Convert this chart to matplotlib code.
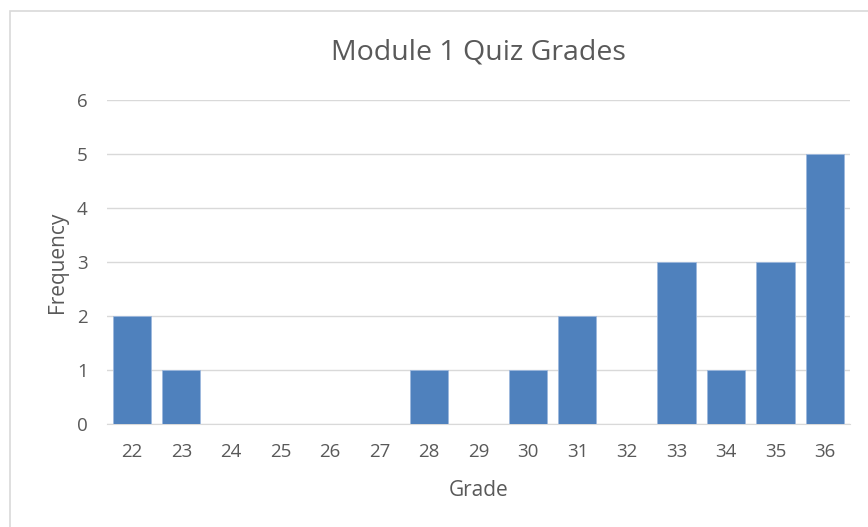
import matplotlib.pyplot as plt
from matplotlib.patches import Rectangle

plt.rcParams['font.family'] = ['Open Sans', 'DejaVu Sans']

grades = ['22', '23', '24', '25', '26', '27', '28', '29', '30', '31', '32', '33', '34', '35', '36']
freq = [2, 1, 0, 0, 0, 0, 1, 0, 1, 2, 0, 3, 1, 3, 5]

txt = '#595959'
grid = '#D9D9D9'

fig = plt.figure(figsize=(8.68, 5.27), dpi=100)
ax = fig.add_axes([0.1233, 0.1954, 0.979 - 0.1233, 0.8102 - 0.1954])

# chart border (cropped on right and bottom)
fig.add_artist(Rectangle((10 / 868, -0.1), 1.0, 1 - 11 / 527 + 0.1,
                         transform=fig.transFigure, fill=False,
                         edgecolor='#D9D9D9', linewidth=1.2))

x = range(len(grades))
ax.bar(x, freq, width=0.77, color='#4F81BD', edgecolor='#9DB8DE', linewidth=0.6, zorder=3)

ax.set_xlim(-0.5, len(grades) - 0.5)
ax.set_ylim(0, 6)
ax.set_yticks(range(7))
ax.set_xticks(list(x))
ax.set_xticklabels(grades)
ax.yaxis.grid(True, color=grid, linewidth=1)
ax.set_axisbelow(True)
for s in ['top', 'right', 'left']:
    ax.spines[s].set_visible(False)
ax.spines['bottom'].set_color(grid)
ax.tick_params(length=0, labelsize=13.5, colors=txt)
ax.tick_params(axis='x', pad=14)
ax.tick_params(axis='y', pad=14)

ax.set_title('Module 1 Quiz Grades', fontsize=20.5, color=txt, pad=29)
ax.set_xlabel('Grade', fontsize=15, color=txt, labelpad=13)
ax.set_ylabel('Frequency', fontsize=15, color=txt, labelpad=6)

fig.savefig('out.png', dpi=100)
